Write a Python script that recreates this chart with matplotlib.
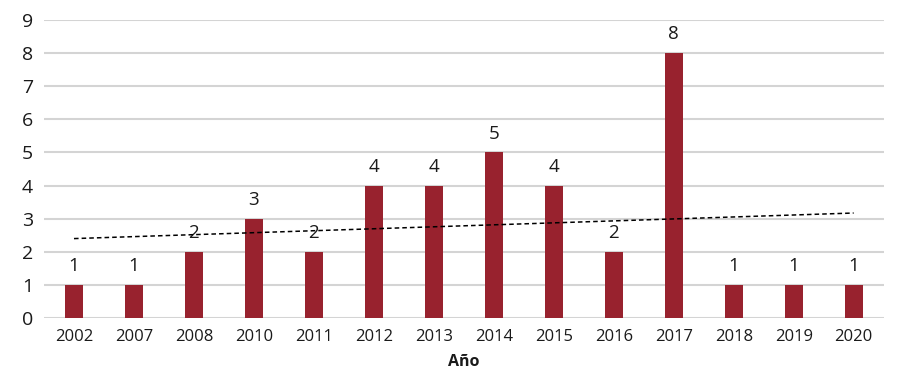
import matplotlib
matplotlib.use("Agg")
import matplotlib.pyplot as plt
import numpy as np

years = ["2002", "2007", "2008", "2010", "2011", "2012", "2013", "2014",
         "2015", "2016", "2017", "2018", "2019", "2020"]
counts = [1, 1, 2, 3, 2, 4, 4, 5, 4, 2, 8, 1, 1, 1]

plt.rcParams['font.family'] = ['Open Sans', 'DejaVu Sans']

fig = plt.figure(figsize=(8.98, 3.76), dpi=100)
ax = fig.add_axes([0.049, 0.154, 0.935, 0.793])

x = np.arange(len(years))
bars = ax.bar(x, counts, width=0.3, color="#98222e", zorder=3)
for xi, v in zip(x, counts):
    ax.text(xi, v + 0.3, str(v), ha="center", va="bottom", fontsize=13.5,
            color="#1a1a1a", zorder=4)

# linear trend line
coef = np.polyfit(x, counts, 1)
ax.plot(x, np.polyval(coef, x), linestyle=(0, (3, 2)), color="black",
        linewidth=1.1, zorder=5)

ax.set_xlim(-0.5, len(years) - 0.5)
ax.set_ylim(0, 9)
ax.set_yticks(range(0, 10))
ax.set_xticks(x)
ax.set_xticklabels(years)
ax.tick_params(axis="both", length=0, colors="#1a1a1a")
ax.tick_params(axis="x", pad=8, labelsize=12)
ax.tick_params(axis="y", pad=8, labelsize=14)
ax.grid(axis="y", color="#d4d4d4", linewidth=1.5, zorder=0)
for s in ax.spines.values():
    s.set_visible(False)
ax.set_xlabel("Año", fontsize=11.5, fontweight="bold", color="#1a1a1a", labelpad=6)

fig.savefig("out.png", dpi=100)
